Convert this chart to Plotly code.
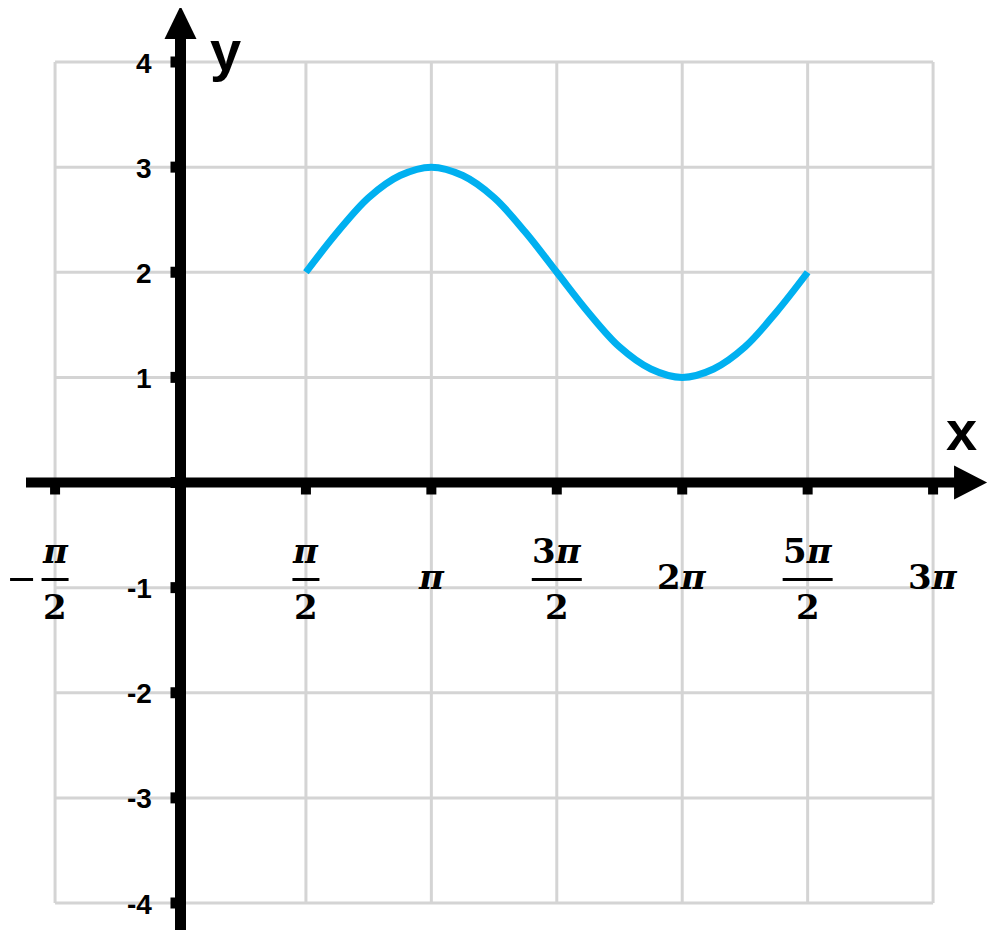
import numpy as np
import plotly.graph_objects as go

# ---------------- data ----------------
x_tick_units = [-1, 0, 1, 2, 3, 4, 5, 6]          # multiples of pi/2
x_tick_labels = ["-π/2", "", "π/2", "π", "3π/2", "2π", "5π/2", "3π"]
y_ticks = [-4, -3, -2, -1, 0, 1, 2, 3, 4]
y_tick_labels = ["-4", "-3", "-2", "-1", "", "1", "2", "3", "4"]

curve_x_units = [4, 5, 6, 7, 8, 9, 10, 11, 12, 13, 14, 15, 16, 17, 18, 19, 20]   # multiples of pi/8
curve_y = [2.00, 2.38, 2.71, 2.92, 3.00, 2.92, 2.71, 2.38, 2.00,
           1.62, 1.29, 1.08, 1.00, 1.08, 1.29, 1.62, 2.00]

# ---------------- geometry ----------------
OFF = 8                      # default page body margin
W, H = 1000 - 2 * OFF, 946 - 2 * OFF
XPX = 125.43 / (np.pi / 2)   # pixels per radian
YPX = 105.125                # pixels per unit
X0PX, Y0PX = 180.5 - OFF, 482.5 - OFF    # pixel position of origin inside figure

def dx(p):  # pixel offset -> data x
    return p / XPX

def dy(p):  # pixel offset (up positive) -> data y
    return p / YPX

x_ticks = [k * np.pi / 2 for k in x_tick_units]
curve_x = [k * np.pi / 8 for k in curve_x_units]
xmin, xmax = x_ticks[0], x_ticks[-1]
ymin, ymax = y_ticks[0], y_ticks[-1]

fig = go.Figure()
fig.add_trace(go.Scatter(x=curve_x, y=curve_y, mode="lines",
                         line=dict(color="#00B0F0", width=7, shape="spline"),
                         hoverinfo="skip", showlegend=False))

shapes = []
GRID = "#d4d4d4"
for xv in x_ticks:
    shapes.append(dict(type="line", x0=xv, x1=xv, y0=ymin, y1=ymax,
                       line=dict(color=GRID, width=3), layer="below"))
for yv in y_ticks:
    shapes.append(dict(type="line", x0=xmin, x1=xmax, y0=yv, y1=yv,
                       line=dict(color=GRID, width=3), layer="below"))

# axes
shapes.append(dict(type="line", x0=dx(26 - 180.5), x1=xmax + dx(24), y0=0, y1=0,
                   line=dict(color="black", width=10), layer="above"))
shapes.append(dict(type="line", x0=0, x1=0, y0=ymin - dy(27), y1=ymax + dy(26),
                   line=dict(color="black", width=11), layer="above"))
# arrow heads
tx = xmax + dx(54); bx = xmax + dx(21)
shapes.append(dict(type="path",
                   path=f"M {bx},{dy(17)} L {tx},0 L {bx},{-dy(17)} Z",
                   fillcolor="black", line=dict(color="black", width=0), layer="above"))
ty = ymax + dy(56); by = ymax + dy(23)
shapes.append(dict(type="path",
                   path=f"M {-dx(16)},{by} L 0,{ty} L {dx(16)},{by} Z",
                   fillcolor="black", line=dict(color="black", width=0), layer="above"))
# tick marks
for xv in x_ticks:
    shapes.append(dict(type="rect", x0=xv - dx(5), x1=xv + dx(5), y0=0, y1=-dy(12),
                       fillcolor="black", line=dict(width=0), layer="above"))
for yv in y_ticks:
    shapes.append(dict(type="rect", x0=-dx(10), x1=0, y0=yv - dy(5.5), y1=yv + dy(5.5),
                       fillcolor="black", line=dict(width=0), layer="above"))

annotations = []
YFONT = dict(family="Liberation Sans", size=28, color="black")
for yv, lab in zip(y_ticks, y_tick_labels):
    if lab:
        annotations.append(dict(x=0, y=yv, text=f"<b>{lab}</b>", showarrow=False,
                                xanchor="right", yanchor="middle", xshift=-27, yshift=-1,
                                font=YFONT))

XFONT = dict(family="DejaVu Serif", size=34, color="black")

def fmt(s):
    return "<b>" + s.replace("π", "<i>π</i>") + "</b>"

for xv, lab in zip(x_ticks, x_tick_labels):
    if not lab:
        continue
    neg = lab.startswith("-")
    body = lab[1:] if neg else lab
    if "/" in body:
        num, den = body.split("/")
        annotations.append(dict(x=xv, y=0, text=fmt(num), showarrow=False,
                                xanchor="center", yanchor="middle", yshift=-68, font=XFONT))
        annotations.append(dict(x=xv, y=0, text=fmt(den), showarrow=False,
                                xanchor="center", yanchor="middle", yshift=-124, font=XFONT))
        half = 13.5 if len(num) == 1 else 25
        shapes.append(dict(type="line", x0=xv - dx(half), x1=xv + dx(half),
                           y0=-dy(97), y1=-dy(97), line=dict(color="black", width=3)))
        if neg:
            shapes.append(dict(type="line", x0=xv - dx(45), x1=xv - dx(22),
                               y0=-dy(97), y1=-dy(97), line=dict(color="black", width=3)))
    else:
        annotations.append(dict(x=xv, y=0, text=fmt(body), showarrow=False,
                                xanchor="center", yanchor="middle", yshift=-94, font=XFONT))

LFONT = dict(family="Liberation Sans", size=56, color="black")
annotations.append(dict(x=xmax + dx(28), y=0, text="<b>x</b>", showarrow=False,
                        xanchor="center", yanchor="middle", yshift=52, font=LFONT))
annotations.append(dict(x=dx(45), y=ymax, text="<b>y</b>", showarrow=False,
                        xanchor="center", yanchor="middle", yshift=12, font=LFONT))

fig.update_layout(
    width=W, height=H,
    margin=dict(l=0, r=0, t=0, b=0, pad=0),
    paper_bgcolor="white", plot_bgcolor="white",
    xaxis=dict(visible=False, range=[-X0PX / XPX, (W - X0PX) / XPX], fixedrange=True),
    yaxis=dict(visible=False, range=[-(H - Y0PX) / YPX, Y0PX / YPX], fixedrange=True),
    shapes=shapes, annotations=annotations, showlegend=False,
)

fig.write_html("out.html", config={"displayModeBar": False})
